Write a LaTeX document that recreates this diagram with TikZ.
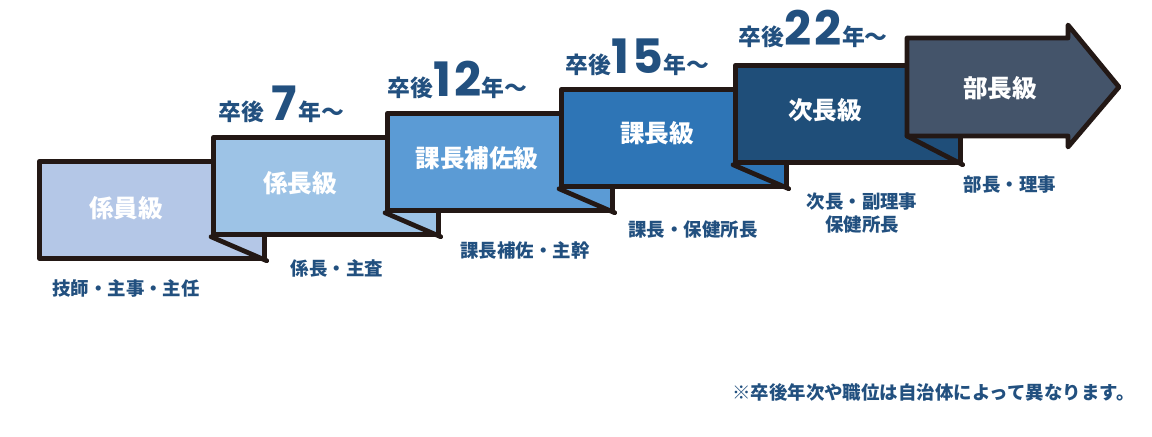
\documentclass[tikz,border=0pt]{standalone}
\usepackage{fontspec}
\newfontfamily\cjk{Noto Sans CJK JP}
\newfontfamily\numfont{Poppins}[LetterSpace=8]
\usetikzlibrary{calc, positioning}

\definecolor{rankA}{HTML}{B4C7E7}
\definecolor{rankB}{HTML}{9DC3E6}
\definecolor{rankC}{HTML}{5B9BD5}
\definecolor{rankD}{HTML}{2E75B6}
\definecolor{rankE}{HTML}{1F4E79}
\definecolor{rankF}{HTML}{44546A}
\definecolor{inkline}{HTML}{231815}
\definecolor{navy}{HTML}{22507F}

\begin{document}
\begin{tikzpicture}[x=0.02cm, y=-0.02cm, line join=round]
	\tikzstyle{ribbon} = [draw=inkline, line width=2.7pt, rectangle, anchor=north west, inner sep=0pt, minimum width=4.5cm, minimum height=1.94cm]
	\tikzstyle{fold} = [draw=inkline, line width=2.7pt, line cap=round]
	\tikzstyle{grade} = [text=white, font=\cjk\bfseries\fontsize{14}{16}\selectfont]
	\tikzstyle{year} = [text=navy, anchor=base west, inner sep=0pt, font=\cjk\bfseries\fontsize{13}{15}\selectfont]
	\tikzstyle{post} = [text=navy, align=center, font=\cjk\bfseries\fontsize{10.5}{13}\selectfont]
	\newcommand{\yrnum}[1]{{\numfont\bfseries\fontsize{27}{29}\selectfont #1}}

	\useasboundingbox (0,0) rectangle (1152,436);

	% steps
	\node[ribbon, fill=rankA] at (37, 159) 	(b1) {};
	\node[ribbon, fill=rankB] at (211, 135) 	(b2) {};
	\node[ribbon, fill=rankC] at (385, 111) 	(b3) {};
	\node[ribbon, fill=rankD] at (559, 87) 		(b4) {};
	\node[ribbon, fill=rankE] at (733, 63) 		(b5) {};
	\draw[draw=inkline, line width=2.7pt, fill=rankF]
		(907, 38) -- (1068, 38) -- (1068, 25) -- (1119, 87) -- (1068, 147) -- (1068, 136) -- (907, 136) -- cycle;
	\coordinate (b6) at (907, 136);

	\path[fold]
	(b2.south west)	edge	(b1.south east)
	(b3.south west)	edge	(b2.south east)
	(b4.south west)	edge	(b3.south east)
	(b5.south west)	edge	(b4.south east)
	(b6)			edge	(b5.south east);

	% grade names
	\node[grade] at (126, 208) 	(g1) {係員級};
	\node[grade] at (300, 183) 	(g2) {係長級};
	\node[grade] at (477, 158) 	(g3) {課長補佐級};
	\node[grade] at (657, 133) 	(g4) {課長級};
	\node[grade] at (825, 110) 	(g5) {次長級};
	\node[grade] at (1000, 88) 	(g6) {部長級};

	% years
	\node[year] at (218, 120) 	(y2) {卒後\hspace{4pt}\yrnum{7}\hspace{1pt}年～};
	\node[year] at (387, 96) 	(y3) {卒後\yrnum{12}年～};
	\node[year] at (565, 73) 	(y4) {卒後\yrnum{15}年～};
	\node[year] at (738, 45) 	(y5) {卒後\yrnum{22}年～};

	% posts
	\node[post] at (126, 288) 	(p1) {技師・主事・主任};
	\node[post] at (337, 268) 	(p2) {係長・主査};
	\node[post] at (525, 250) 	(p3) {課長補佐・主幹};
	\node[post] at (693, 230) 	(p4) {課長・保健所長};
	\node[post] at (862, 213) 	(p5) {次長・副理事\\保健所長};
	\node[post] at (1010, 185) 	(p6) {部長・理事};

	\node[post, anchor=west] at (726, 392) (note) {※卒後年次や職位は自治体によって異なります。};
\end{tikzpicture}
\end{document}
